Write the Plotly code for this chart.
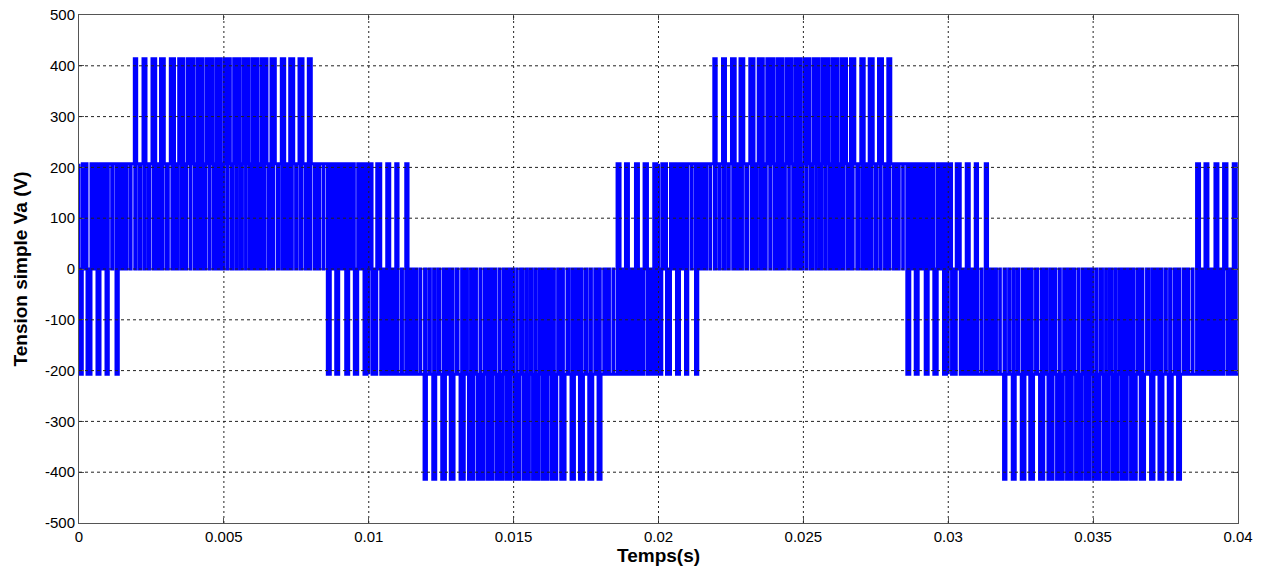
import plotly.graph_objects as go

# ---- data (one half period, 0 .. 0.01 s) ----
# the waveform repeats with period 0.02 s and the second half period is the negative of the first
half_period = 0.01
n_half_periods = 4
base_level = 207          # level held between the pulses (V)

# blocks centred on the carrier peaks: start time, end time, level (V)
blk_on = [0.0, 0.000276, 0.000621, 0.000932, 0.001277, 0.001581,
          0.001909, 0.002209, 0.002519, 0.002813, 0.003151, 0.003441, 0.003738,
          0.004083, 0.004394, 0.004728, 0.005011, 0.005339, 0.005653, 0.005978,
          0.006292, 0.006626, 0.006982, 0.007272, 0.007593, 0.007914,
          0.008224, 0.008570, 0.008860, 0.009205, 0.009502, 0.009836]
blk_off = [0.000114, 0.000414, 0.000725, 0.001011, 0.001356, 0.001664,
           0.001991, 0.002312, 0.002647, 0.002944, 0.003296, 0.003617, 0.003969,
           0.004280, 0.004618, 0.004901, 0.005222, 0.005543, 0.005867, 0.006178,
           0.006488, 0.006775, 0.007099, 0.007410, 0.007731, 0.008017,
           0.008307, 0.008673, 0.008963, 0.009308, 0.009619, 0.009940]
blk_lvl = [-207, -207, -207, -207, -207, 0,
           414, 414, 414, 414, 414, 414, 414, 414, 414, 414,
           414, 414, 414, 414, 414, 414, 414, 414, 414, 414,
           0, -207, -207, -207, -207, -207]
# short 0 V notch in the middle of each block (s)
blk_notch = [0.000035, 0.000041, 0.000048, 0.000055, 0.000062, 0.0,
             0.000048, 0.000045, 0.000041, 0.000038, 0.000035, 0.000031, 0.000028,
             0.000024, 0.000021, 0.000017, 0.000017, 0.000021, 0.000024, 0.000028,
             0.000031, 0.000035, 0.000038, 0.000041, 0.000045, 0.000048,
             0.0, 0.000062, 0.000055, 0.000048, 0.000041, 0.000035]

# short drops to 0 V between the blocks (carrier troughs): start, end
dip_on = [0.000183, 0.000500, 0.000811, 0.001129, 0.001456, 0.001777,
          0.002085, 0.002390, 0.002699, 0.003013, 0.003331, 0.003638, 0.003985,
          0.004295, 0.004632, 0.004915, 0.005239, 0.005557, 0.005881, 0.006195,
          0.006520, 0.006844, 0.007155, 0.007476, 0.007802, 0.008111,
          0.008428, 0.008749, 0.009067, 0.009388, 0.009710]
dip_off = [0.000217, 0.000535, 0.000846, 0.001163, 0.001477, 0.001798,
           0.002126, 0.002442, 0.002761, 0.003082, 0.003406, 0.003717, 0.004067,
           0.004378, 0.004714, 0.004998, 0.005322, 0.005639, 0.005964, 0.006274,
           0.006595, 0.006913, 0.007217, 0.007527, 0.007843, 0.008131,
           0.008449, 0.008784, 0.009101, 0.009422, 0.009745]

x_ticks = [0, 0.005, 0.01, 0.015, 0.02, 0.025, 0.03, 0.035, 0.04]
x_tick_text = ["0", "0.005", "0.01", "0.015", "0.02", "0.025", "0.03", "0.035", "0.04"]
y_ticks = [-500, -400, -300, -200, -100, 0, 100, 200, 300, 400, 500]
y_tick_text = [str(v) for v in y_ticks]

x_title = "Temps(s)"
y_title = "Tension simple Va (V)"

# ---- build the step signal ----
changes = []
for a, b, l, g in zip(blk_on, blk_off, blk_lvl, blk_notch):
    changes += [(a, l), (b, base_level)]
    if g > 0:
        c = 0.5 * (a + b)
        changes += [(c - 0.5 * g, 0), (c + 0.5 * g, l)]
for a, b in zip(dip_on, dip_off):
    changes += [(a, 0), (b, base_level)]
changes.sort(key=lambda p: p[0])

half_t, half_v = [0.0], [base_level]
for t, v in changes:
    half_t.append(t)
    half_v.append(v)

t_all, v_all = [], []
for k in range(n_half_periods):
    sign = 1 if k % 2 == 0 else -1
    off = k * half_period
    t_all += [t + off for t in half_t]
    v_all += [sign * v for v in half_v]
t_all.append(n_half_periods * half_period)
v_all.append(v_all[-1])

FONT = "Liberation Sans, Arial, Helvetica, sans-serif"

fig = go.Figure()
fig.add_trace(go.Scatter(
    x=t_all, y=v_all, mode="lines",
    line=dict(color="#0000FF", width=3, shape="hv", simplify=False),
    hoverinfo="skip", showlegend=False,
))

# grid lines on top of the data (MATLAB style)
shapes = []
for xv in x_ticks[1:-1]:
    shapes.append(dict(type="line", xref="x", yref="paper", x0=xv, x1=xv, y0=0, y1=1,
                       line=dict(color="#222222", width=1, dash="2px,3px"), layer="above"))
for yv in y_ticks[1:-1]:
    shapes.append(dict(type="line", xref="paper", yref="y", x0=0, x1=1, y0=yv, y1=yv,
                       line=dict(color="#222222", width=1, dash="3px,3px"), layer="above"))

fig.update_layout(
    width=1269, height=574,
    margin=dict(l=79, r=31, t=15, b=51, autoexpand=False),
    paper_bgcolor="white", plot_bgcolor="white",
    font=dict(family=FONT, size=15, color="black"),
    shapes=shapes,
    hovermode=False,
    xaxis=dict(
        range=[0, 0.04], tickvals=x_ticks, ticktext=x_tick_text,
        showgrid=False, zeroline=False, automargin=False,
        showline=True, linecolor="#555555", linewidth=1, mirror="ticks",
        ticks="inside", ticklen=5, tickcolor="#555555",
        tickfont=dict(size=15, family=FONT), ticklabeloverflow="allow",
        title=dict(text="<b>" + x_title + "</b>", font=dict(size=19, family=FONT), standoff=0),
        layer="above traces",
    ),
    yaxis=dict(
        range=[-500, 500], tickvals=y_ticks, ticktext=y_tick_text,
        showgrid=False, zeroline=False, automargin=False,
        showline=True, linecolor="#555555", linewidth=1, mirror="ticks",
        ticks="inside", ticklen=5, tickcolor="#555555",
        tickfont=dict(size=15, family=FONT), ticklabeloverflow="allow",
        title=dict(text="<b>" + y_title + "</b>", font=dict(size=19, family=FONT), standoff=12),
        layer="above traces",
    ),
)

fig.write_html("out.html",
               config={"displayModeBar": False},
               post_script="document.body.style.margin='0';document.body.style.padding='0';")
